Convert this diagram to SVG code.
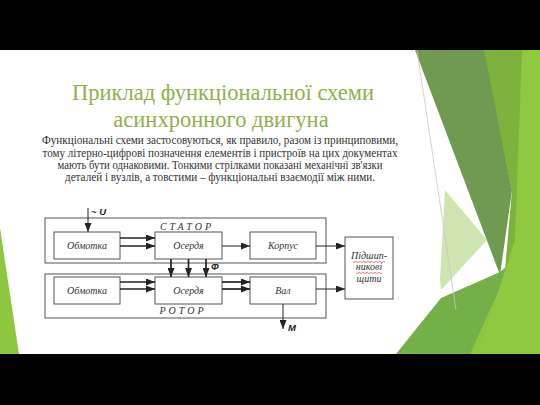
<svg xmlns="http://www.w3.org/2000/svg" width="540" height="405" viewBox="0 0 540 405">
<style>
.box{fill:#fff;stroke:#555;stroke-width:1}
.frame{fill:none;stroke:#555;stroke-width:1}
.lbl{font-family:"Liberation Serif",serif;font-style:italic;font-size:10px;fill:#333;text-anchor:middle}
.sym{font-family:"Liberation Sans",sans-serif;font-style:italic;font-weight:bold;font-size:9.5px;fill:#222}
.thin{stroke:#222;stroke-width:1;fill:none}
.thick{stroke:#222;stroke-width:1.7;fill:none}
.body{font-family:"Liberation Serif",serif;font-size:11.5px;fill:#333;text-anchor:middle}
.title{font-family:"Liberation Serif",serif;font-size:22.5px;fill:#8fb04a;text-anchor:middle}
</style>
<defs>
<marker id="ah" markerUnits="userSpaceOnUse" markerWidth="9" markerHeight="7" refX="9" refY="3.5" orient="auto"><path d="M0,0 L9,3.5 L0,7 Z" fill="#222"/></marker>
</defs>
<rect x="0" y="0" width="540" height="405" fill="#000"/>
<rect x="0" y="50" width="540" height="304" fill="#fff"/>
<g id="decor">
<polygon points="0,228 19,354 0,354" fill="#8dc63f"/>
<polygon points="396,354 441,298 500,272 540,240 540,354" fill="#74b048"/>
<polygon points="470,354 540,200 540,354" fill="#8dc63f"/>
<polygon points="483,50 540,50 540,354 480,354 505,270 512,190" fill="#7db33c"/>
<polygon points="522,50 540,50 540,354 478,354 515,240" fill="#8fc940"/>
<polygon points="415,50 484,50 512,190 500,275" fill="#6f9a50"/>
<polygon points="445,190 487,240 441,290 440,280" fill="#c9e2a8" opacity="0.9"/>
<line x1="417" y1="50" x2="456" y2="310" stroke="#c8c8c8" stroke-width="0.8"/>
</g>
<g id="title">
<text class="title" x="223" y="100">Приклад функціональної схеми</text>
<text class="title" x="221" y="127">асинхронного двигуна</text>
</g>
<g id="description">
<text class="body" x="220" y="144" textLength="356" lengthAdjust="spacingAndGlyphs">Функціональні схеми застосовуються, як правило, разом із принциповими,</text>
<text class="body" x="220" y="157" textLength="355" lengthAdjust="spacingAndGlyphs">тому літерно-цифрові позначення елементів і пристроїв на цих документах</text>
<text class="body" x="220" y="169" textLength="325" lengthAdjust="spacingAndGlyphs">мають бути однаковими. Тонкими стрілками показані механічні зв'язки</text>
<text class="body" x="220" y="181" textLength="310" lengthAdjust="spacingAndGlyphs">деталей і вузлів, а товстими – функціональні взаємодії між ними.</text>
</g>
<g id="stator">
<rect class="frame" x="45" y="218" width="281" height="45"/>
<text x="187" y="230" font-family="Liberation Serif,serif" font-style="italic" font-size="10" fill="#333" text-anchor="middle" letter-spacing="3">СТАТОР</text>
</g>
<g id="rotor">
<rect class="frame" x="45" y="274" width="281" height="44"/>
<text x="183" y="314" font-family="Liberation Serif,serif" font-style="italic" font-size="10" fill="#333" text-anchor="middle" letter-spacing="3">РОТОР</text>
</g>
<g id="stator-winding"><rect class="box" x="54" y="232" width="66" height="27"/><text class="lbl" x="87" y="249">Обмотка</text></g>
<g id="stator-core"><rect class="box" x="155" y="232" width="67" height="27"/><text class="lbl" x="188.5" y="249">Осердя</text></g>
<g id="housing"><rect class="box" x="250" y="232" width="66" height="27"/><text class="lbl" x="283" y="249">Корпус</text></g>
<g id="rotor-winding"><rect class="box" x="54" y="277" width="66" height="27"/><text class="lbl" x="87" y="294">Обмотка</text></g>
<g id="rotor-core"><rect class="box" x="155" y="277" width="67" height="27"/><text class="lbl" x="188.5" y="294">Осердя</text></g>
<g id="shaft"><rect class="box" x="250" y="277" width="66" height="27"/><text class="lbl" x="283" y="294">Вал</text></g>
<g id="shields">
<rect class="box" x="345" y="237" width="48" height="62"/>
<text class="lbl" x="369" y="259" font-size="9.5">Підшип-</text>
<text class="lbl" x="369" y="270" font-size="9.5">никові</text>
<text class="lbl" x="369" y="282" font-size="9.5">щити</text>
<path d="M353,262 q1,1.2 2,0 t2,0 t2,0 t2,0 t2,0 t2,0 t2,0 t2,0 t2,0 t2,0 t2,0 t2,0 t2,0 t2,0 t2,0 t2,0 M356,273 q1,1.2 2,0 t2,0 t2,0 t2,0 t2,0 t2,0 t2,0 t2,0 t2,0 t2,0 t2,0 t2,0 t2,0" fill="none" stroke="#d04040" stroke-width="0.7"/>
</g>
<g id="connectors">
<line class="thin" x1="88" y1="208" x2="88" y2="232" marker-end="url(#ah)"/>
<text class="sym" x="91" y="215">~ U</text>
<line class="thick" x1="120" y1="238" x2="155" y2="238" marker-end="url(#ah)"/>
<line class="thick" x1="120" y1="246" x2="155" y2="246" marker-end="url(#ah)"/>
<line class="thin" x1="222" y1="246" x2="250" y2="246" marker-end="url(#ah)"/>
<line class="thin" x1="316" y1="246" x2="345" y2="246" marker-end="url(#ah)"/>
<line class="thick" x1="171" y1="259" x2="171" y2="277" marker-end="url(#ah)"/>
<line class="thick" x1="188.5" y1="259" x2="188.5" y2="277" marker-end="url(#ah)"/>
<line class="thick" x1="206" y1="259" x2="206" y2="277" marker-end="url(#ah)"/>
<text class="sym" x="211" y="270" font-style="normal">Φ</text>
<line class="thick" x1="120" y1="282" x2="155" y2="282" marker-end="url(#ah)"/>
<line class="thick" x1="120" y1="289" x2="155" y2="289" marker-end="url(#ah)"/>
<line class="thick" x1="222" y1="282" x2="250" y2="282" marker-end="url(#ah)"/>
<line class="thick" x1="222" y1="289" x2="250" y2="289" marker-end="url(#ah)"/>
<line class="thin" x1="316" y1="289" x2="345" y2="289" marker-end="url(#ah)"/>
<line class="thin" x1="283" y1="304" x2="283" y2="329" marker-end="url(#ah)"/>
<text class="sym" x="288" y="331">M</text>
</g>
</svg>
